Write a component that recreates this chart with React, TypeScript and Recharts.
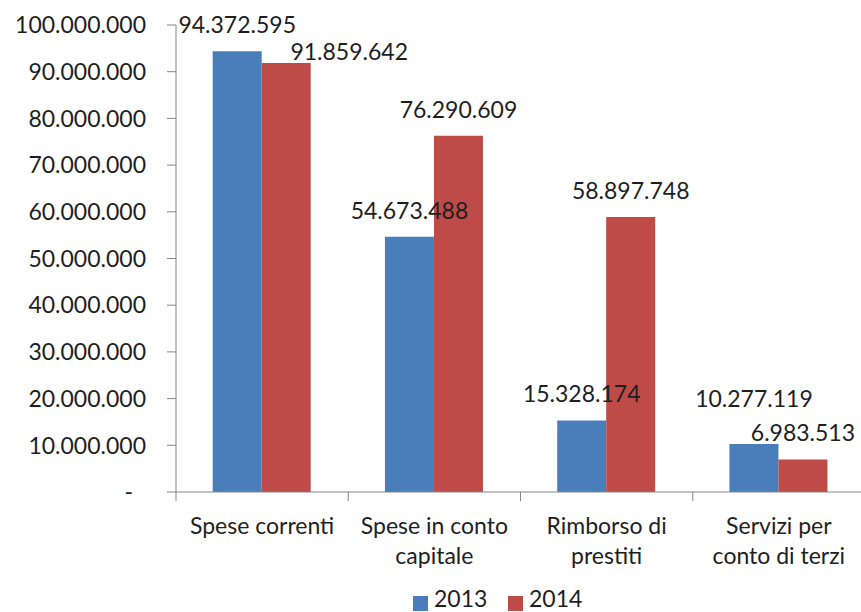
import React from "react";
import { BarChart, Bar, XAxis, YAxis, Legend, LabelList } from "recharts";

// ---- data ----
const categories = [
  "Spese correnti",
  "Spese in conto capitale",
  "Rimborso di prestiti",
  "Servizi per conto di terzi",
];
const categoryLines = [
  ["Spese correnti"],
  ["Spese in conto", "capitale"],
  ["Rimborso di", "prestiti"],
  ["Servizi per", "conto di terzi"],
];
const values2013 = [94372595, 54673488, 15328174, 10277119];
const values2014 = [91859642, 76290609, 58897748, 6983513];
const yTicks = [0, 10000000, 20000000, 30000000, 40000000, 50000000, 60000000, 70000000, 80000000, 90000000, 100000000];
const seriesNames = ["2013", "2014"];

const data = categories.map((c, i) => ({
  name: c,
  y2013: values2013[i],
  y2014: values2014[i],
}));

// ---- style ----
const CHART_W = 861;
const CHART_H = 612;
const Y_AXIS_W = 176;
const MARGIN_RIGHT = -4;
const BAND = (CHART_W - Y_AXIS_W - MARGIN_RIGHT) / categories.length;
const FONT = "Lato, 'Open Sans', sans-serif";
const FONT_SIZE = 23;
const TEXT_COLOR = "#1e1e1e";
const AXIS_COLOR = "#868686";
const BLUE = "#4a7ebb";
const RED = "#be4b48";
const LABEL_GAP = 18;
const LEGEND_H = 24;
const LABEL_NUDGE: Record<string, Record<number, { dx: number; dy: number }>> = {
  y2013: { 3: { dx: 0, dy: -19 } },
  y2014: { 0: { dx: 63, dy: 15 } },
};

const fmt = (v: number) =>
  v === 0 ? "-" : String(Math.round(v)).replace(/\B(?=(\d{3})+(?!\d))/g, ".");

const YTick = (props: any) => {
  const { x, y, payload } = props;
  const isZero = payload.value === 0;
  return (
    <text
      x={x}
      y={y}
      dx={isZero ? -13 : 0}
      dy="0.36em"
      textAnchor="end"
      fontFamily={FONT}
      fontSize={FONT_SIZE}
      fill={TEXT_COLOR}
    >
      {fmt(payload.value)}
    </text>
  );
};

const XTick = (props: any) => {
  const { x, y, index } = props;
  const lines = categoryLines[index] || [];
  const half = BAND / 2;
  return (
    <g>
      <line x1={x - half} x2={x - half} y1={y} y2={y + 9} stroke={AXIS_COLOR} strokeWidth={1} />
      {index === categories.length - 1 && (
        <line x1={x + half} x2={x + half} y1={y} y2={y + 9} stroke={AXIS_COLOR} strokeWidth={1} />
      )}
      <text
        x={x}
        y={y + 42}
        textAnchor="middle"
        fontFamily={FONT}
        fontSize={FONT_SIZE}
        fill={TEXT_COLOR}
      >
        {lines.map((l, i) => (
          <tspan key={i} x={x} dy={i === 0 ? 0 : 30}>
            {l}
          </tspan>
        ))}
      </text>
    </g>
  );
};

const makeLabel = (key: string) => (props: any) => {
  const { x, y, width, value, index } = props;
  const adj = (LABEL_NUDGE[key] && LABEL_NUDGE[key][index]) || { dx: 0, dy: 0 };
  return (
    <text
      x={Number(x) + Number(width) / 2 + adj.dx}
      y={Number(y) - LABEL_GAP + adj.dy}
      textAnchor="middle"
      fontFamily={FONT}
      fontSize={FONT_SIZE}
      fill={TEXT_COLOR}
    >
      {fmt(Number(value))}
    </text>
  );
};

const LegendContent = () => {
  const colors = [BLUE, RED];
  const itemLeft = [413, 508];
  return (
    <div
      style={{
        height: LEGEND_H,
        position: "relative",
        fontFamily: FONT,
        fontSize: FONT_SIZE,
        color: TEXT_COLOR,
        whiteSpace: "nowrap",
      }}
    >
      {seriesNames.map((n, i) => (
        <React.Fragment key={n}>
          <span
            style={{
              position: "absolute",
              left: itemLeft[i],
              top: 8,
              width: 15,
              height: 15,
              background: colors[i],
            }}
          />
          <span
            style={{
              position: "absolute",
              left: itemLeft[i] + 21,
              top: -2,
              height: 24,
              lineHeight: "24px",
            }}
          >
            {n}
          </span>
        </React.Fragment>
      ))}
    </div>
  );
};

export default function App() {
  return (
    <div style={{ position: "absolute", left: 0, top: 0, width: CHART_W, height: CHART_H, overflow: "hidden", background: "#fff" }}>
      <BarChart
        width={CHART_W}
        height={CHART_H}
        data={data}
        margin={{ top: 25, right: MARGIN_RIGHT, bottom: 0, left: 0 }}
        barCategoryGap="21.3%"
        barGap={0}
      >
        <XAxis
          dataKey="name"
          height={120 - LEGEND_H}
          tickSize={0}
          tickMargin={0}
          tickLine={false}
          axisLine={{ stroke: AXIS_COLOR }}
          tick={<XTick />}
          interval={0}
        />
        <YAxis
          width={Y_AXIS_W}
          domain={[0, 100000000]}
          ticks={yTicks}
          interval={0}
          tickSize={9}
          tickMargin={21}
          axisLine={{ stroke: AXIS_COLOR }}
          tickLine={{ stroke: AXIS_COLOR }}
          tick={<YTick />}
        />
        <Legend
          verticalAlign="bottom"
          height={LEGEND_H}
          content={<LegendContent />}
          wrapperStyle={{ left: 0, width: CHART_W, bottom: 0 }}
        />
        <Bar dataKey="y2013" name={seriesNames[0]} fill={BLUE} isAnimationActive={false}>
          <LabelList dataKey="y2013" content={makeLabel("y2013")} />
        </Bar>
        <Bar dataKey="y2014" name={seriesNames[1]} fill={RED} isAnimationActive={false}>
          <LabelList dataKey="y2014" content={makeLabel("y2014")} />
        </Bar>
      </BarChart>
    </div>
  );
}
